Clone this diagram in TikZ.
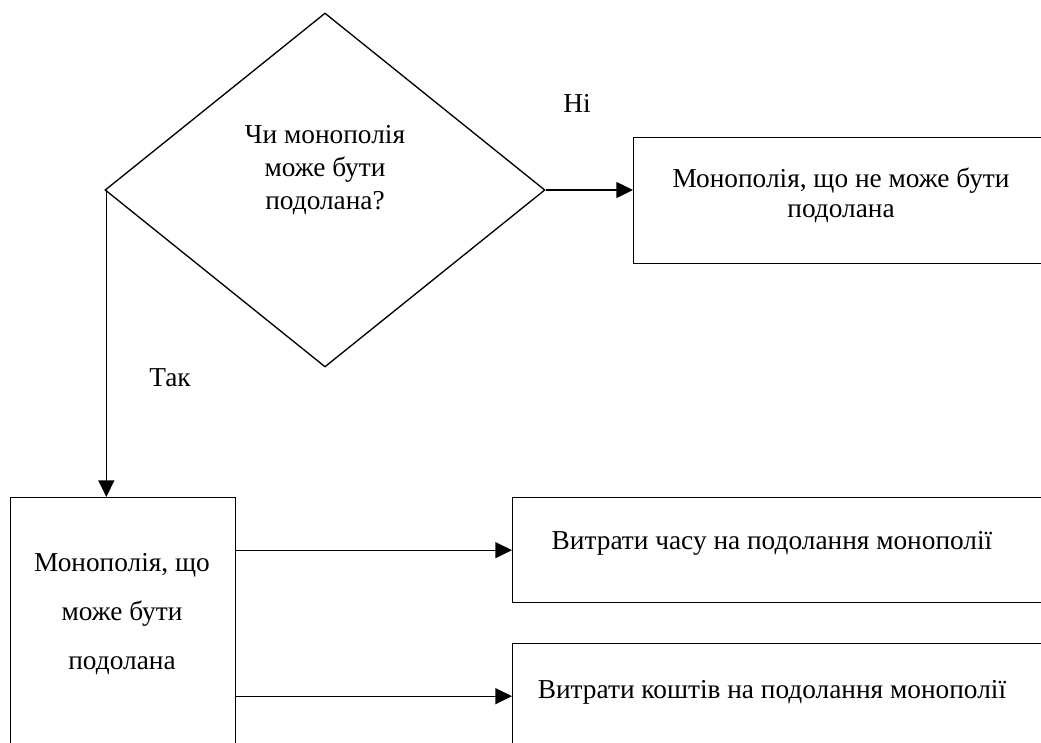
\documentclass[tikz,border=0pt]{standalone}
\usepackage{fontspec}
\setmainfont{Liberation Serif}
\usetikzlibrary{shapes.geometric,arrows.meta}

\tikzset{
  blk/.style={draw, line width=1pt, inner sep=0pt, anchor=north west},
  arr/.style={draw, line width=1pt, -{Triangle[length=12.5pt,width=12pt]}},
  txt/.style={inner sep=0.75pt, align=center, font=\fontsize{20.5}{24.75}\selectfont}
}

\begin{document}
\begin{tikzpicture}[x=0.75pt,y=0.75pt,yscale=-1,xscale=1]
\useasboundingbox (0,0) rectangle (1041,742);
\clip (0,0) rectangle (1041,742);

%Flowchart: Decision
\node [draw, line width=1pt, diamond, inner sep=0pt, minimum width=330pt, minimum height=265.5pt] (dec) at (325,190) {};
%Flowchart: Process
\node [blk, minimum width=335.25pt, minimum height=94.5pt] (nmp) at (633,137) {};
%Flowchart: Process
\node [blk, minimum width=168.75pt, minimum height=225pt] (mp) at (10,497) {};
%Flowchart: Process
\node [blk, minimum width=426pt, minimum height=78.75pt] (tm) at (512,497) {};
%Flowchart: Process
\node [blk, minimum width=426pt, minimum height=78.75pt] (cs) at (512,643) {};

%Straight Lines
\draw [arr] (dec.east) -- (dec.east -| nmp.west) ;
%Straight Lines
\draw [arr] ([xshift=1.5pt]dec.west) -- ([xshift=1.5pt]dec.west |- mp.north) ;
%Straight Lines
\draw [arr] (mp.east |- tm.west) -- (tm.west) ;
%Straight Lines
\draw [arr] (mp.east |- cs.west) -- (cs.west) ;

% Text Node
\node [txt] (dect) at (325,170) {Чи монополія\\може бути\\подолана?};
% Text Node
\node [txt, font=\fontsize{20.5}{22.5}\selectfont] (nmpt) at (841,195) {Монополія, що не може бути\\подолана};
% Text Node
\node [txt, font=\fontsize{20.5}{36.75}\selectfont] (mpt) at (122,614) {Монополія, що\\може бути\\подолана};
% Text Node
\node [txt] (tmt) at (772,543) {Витрати часу на подолання монополії};
% Text Node
\node [txt] (cst) at (772,692) {Витрати коштів на подолання монополії};
% Text Node
\node [txt] (no) at (577,103) {Ні};
% Text Node
\node [txt] (yes) at (170,378) {Так};

\end{tikzpicture}
\end{document}
